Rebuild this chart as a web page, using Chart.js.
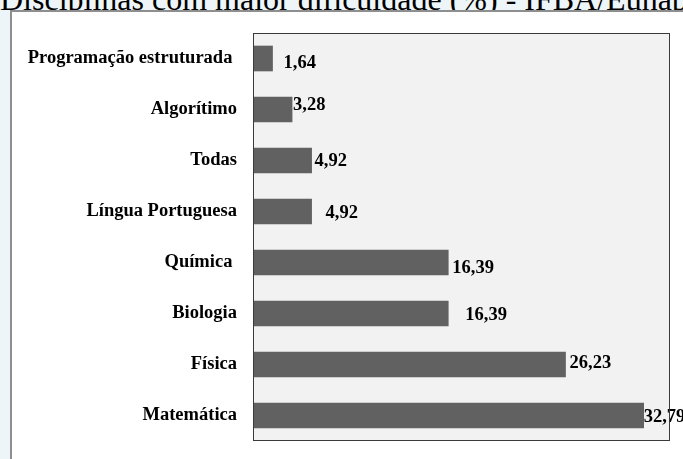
<!DOCTYPE html>
<html>
<head>
<meta charset="utf-8">
<script src="https://cdn.jsdelivr.net/npm/chart.js@4"></script>
<style>
  html, body { margin: 0; padding: 0; background: #edf5f8; overflow: hidden; }
  #title {
    position: absolute; left: 0; top: -17px;
    font: 32px "Liberation Serif", "Times New Roman", serif;
    line-height: 32px; white-space: nowrap; color: #000;
  }
  #panel {
    position: absolute; left: 10px; top: 10px; width: 673px; height: 449px;
    background: #fff; border-left: 2px solid #8e8e8e; border-top: 2px solid #8e8e8e;
  }
  #myBarChart { position: absolute; left: 0; top: 0; }
</style>
</head>
<body>
<div id="title">Disciplinas com maior dificuldade (%) - IFBA/Eunápolis</div>
<div id="panel"></div>
<canvas id="myBarChart" width="683" height="459"></canvas>
<script>
var disciplinas = ['Programação estruturada ', 'Algorítimo', 'Todas', 'Língua Portuguesa', 'Química ', 'Biologia', 'Física', 'Matemática'];
var percentuais = [1.64, 3.28, 4.92, 4.92, 16.39, 16.39, 26.23, 32.79];

// the labels in the original sit a bit off the bar ends, each in its own way
var nudgeX = [11, 1, 3, 14, 4, 17, 4, 0];
var nudgeY = [5, -4, 1, 2, 6, 2, -1, 2];

var plotBox = {
    id: 'plotBox',
    beforeDraw: function (chart) {
        var a = chart.chartArea, c = chart.ctx;
        c.save();
        c.fillStyle = '#f2f2f2';
        c.fillRect(a.left, a.top, a.right - a.left, a.bottom - a.top);
        c.restore();
    },
    afterDraw: function (chart) {
        var a = chart.chartArea, c = chart.ctx;
        c.save();
        c.strokeStyle = '#3a3a3a';
        c.lineWidth = 1;
        c.strokeRect(a.left + 0.5, a.top + 0.5, a.right - a.left - 1, a.bottom - a.top - 1);
        c.restore();
    }
};

var valueLabels = {
    id: 'valueLabels',
    afterDatasetsDraw: function (chart) {
        var c = chart.ctx;
        var meta = chart.getDatasetMeta(0);
        c.save();
        c.font = 'bold 18.5px "Liberation Serif", "Times New Roman", serif';
        c.fillStyle = '#000';
        c.textAlign = 'left';
        c.textBaseline = 'middle';
        meta.data.forEach(function (bar, i) {
            var txt = percentuais[i].toFixed(2).replace('.', ',');
            c.fillText(txt, bar.x + nudgeX[i], bar.y + nudgeY[i]);
        });
        c.restore();
    }
};

var ctx = document.getElementById('myBarChart').getContext('2d');

var myBarChart = new Chart(ctx, {
    type: 'bar',
    data: {
        labels: disciplinas,
        datasets: [{
            data: percentuais,
            backgroundColor: '#616161',
            borderColor: '#8a8a8a',
            borderWidth: 0,
            barThickness: 25
        }]
    },
    options: {
        indexAxis: 'y',
        responsive: false,
        animation: false,
        layout: {
            padding: { top: 33, right: 13, bottom: 18, left: 0 }
        },
        scales: {
            x: {
                display: false,
                min: 0,
                max: 35
            },
            y: {
                grid: { display: false, drawTicks: false },
                border: { display: false },
                ticks: {
                    color: '#000',
                    padding: 16,
                    font: { family: '"Liberation Serif", "Times New Roman", serif', size: 18.5, weight: 'bold' }
                },
                afterFit: function (scale) {
                    scale.width = 253;
                    scale.paddingTop = 0;
                    scale.paddingBottom = 0;
                }
            }
        },
        plugins: {
            legend: { display: false },
            tooltip: { enabled: false },
            title: { display: false }
        }
    },
    plugins: [plotBox, valueLabels]
});
</script>
</body>
</html>
